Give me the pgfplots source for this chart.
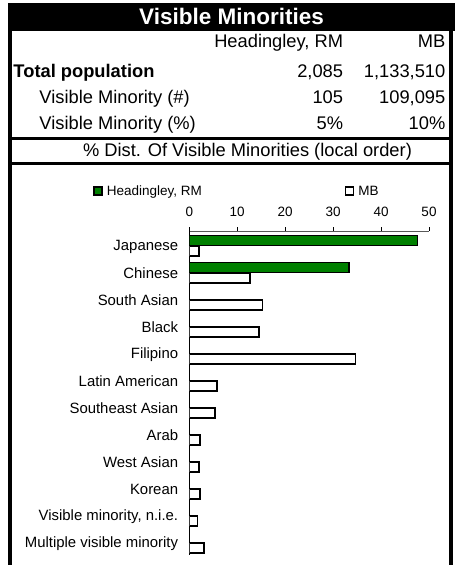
\documentclass[border=0pt]{standalone}
\usepackage{pgfplots}
\pgfplotsset{compat=1.18}
\usepackage{fontspec}
\setmainfont{Liberation Sans}
\definecolor{hgreen}{RGB}{0,128,0}
\pgfplotsset{sqleg/.style={legend image code/.code={\draw[##1,line width=1.4bp] (0bp,-4bp) rectangle (8bp,4bp);}}}
\begin{document}
\begin{tikzpicture}
\begin{scope}[x=1bp,y=-1bp]
\useasboundingbox (0,0) rectangle (458,565);
\fill[black] (8,3) rectangle (455,31.5);
\draw[line width=4bp] (10.3,31) -- (10.3,565);
\draw[line width=3.4bp] (450.8,31) -- (450.8,565);
\draw[line width=3bp] (8.3,138.5) -- (452.5,138.5);
\draw[line width=3bp] (8.3,163.7) -- (452.5,163.7);
\node[anchor=base,inner sep=0pt,text=white,font=\bfseries\fontsize{22.5bp}{26bp}\selectfont] at (231.5,25) {Visible Minorities};
\begin{scope}[every node/.style={inner sep=0pt,font=\fontsize{18.3bp}{22bp}\selectfont}]
\node[anchor=base east] at (343.3,48) {Headingley, RM};
\node[anchor=base east] at (445.5,48) {MB};
\node[anchor=base west,font=\bfseries\fontsize{18.3bp}{22bp}\selectfont] at (13.3,78) {Total population};
\node[anchor=base east] at (343.3,78) {2,085};
\node[anchor=base east] at (445.5,78) {1,133,510};
\node[anchor=base west] at (39.3,104) {Visible Minority (\#)};
\node[anchor=base east] at (343.3,104) {105};
\node[anchor=base east] at (445.5,104) {109,095};
\node[anchor=base west] at (39.3,129.5) {Visible Minority (\%)};
\node[anchor=base east] at (343.3,129.5) {5\%};
\node[anchor=base east] at (445.5,129.5) {10\%};
\node[anchor=base] at (247.5,156.5) {\% Dist. Of Visible Minorities (local order)};
\end{scope}
\end{scope}
\begin{axis}[
  at={(189.3bp,-231bp)}, anchor=north west,
  scale only axis, width=239.7bp, height=324bp,
  xmin=0, xmax=50, ymin=-0.5, ymax=11.5, y dir=reverse,
  axis x line*=top, axis y line*=left,
  x axis line style={draw=gray!70!black, line width=1bp, -},
  y axis line style={draw=black, line width=0.8bp, -},
  xbar, bar width=10bp,
  tick align=outside,
  major tick length=4bp, minor tick length=4bp,
  xtick={0,10,...,50},
  xtick style={draw=black, line width=0.6bp},
  ytick={0,...,11},
  ytick style={draw=none},
  minor ytick={-0.5,0.5,...,11.5},
  minor tick style={draw=black, line width=0.6bp},
  yticklabels={Japanese, Chinese, South Asian, Black, Filipino, Latin American, Southeast Asian, Arab, West Asian, Korean, {Visible minority, n.i.e.}, Multiple visible minority},
  /pgf/number format/assume math mode=true,
  xticklabel style={font=\fontsize{13.5bp}{16bp}\selectfont, inner sep=0pt, yshift=10bp},
  yticklabel style={font=\fontsize{14.9bp}{17bp}\selectfont, inner sep=0pt, xshift=-7bp, yshift=-2bp},
  legend columns=2,
  legend style={at={(axis description cs:-0.4,1.1235)}, anchor=west, draw=none, fill=none,
    inner sep=0pt, outer sep=0pt, font=\fontsize{13.5bp}{16bp}\selectfont,
    nodes={inner sep=0pt, text depth=0pt}, cells={anchor=west},
    /tikz/every odd column/.append style={column sep=4bp},
    /tikz/every even column/.append style={column sep=143bp}},
]
\addplot[fill=hgreen, draw=black, line width=1.5bp, bar shift=3.8bp, sqleg]
  coordinates {(47.6,0) (33.3,1)};
\addlegendentry{Headingley, RM}
\addplot[fill=white, draw=black, line width=1.5bp, bar shift=-6.6bp, sqleg]
  coordinates {(2.0,0) (12.7,1) (15.3,2) (14.5,3) (34.7,4) (5.8,5) (5.4,6) (2.2,7) (2.0,8) (2.2,9) (1.7,10) (3.1,11)};
\addlegendentry{MB}
\end{axis}
\end{tikzpicture}
\end{document}
